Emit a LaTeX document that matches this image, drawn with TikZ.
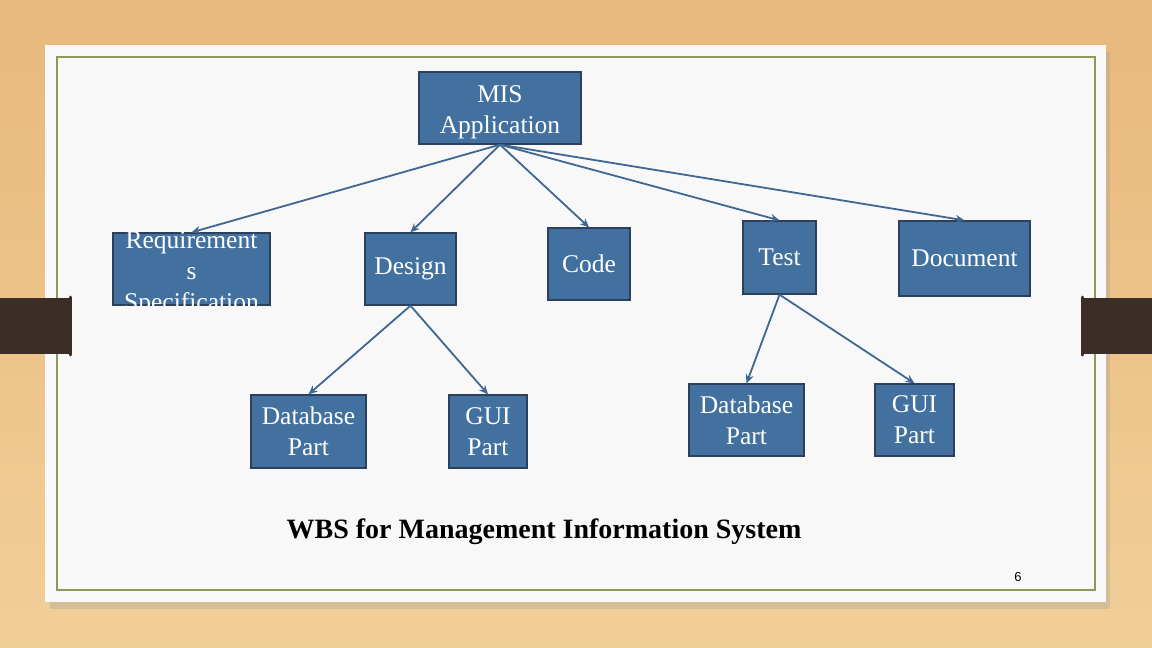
\documentclass[tikz,border=0pt]{standalone}
\usepackage{fontspec}
\setmainfont{Liberation Serif}
\newfontfamily\numfont{Liberation Sans}
\usetikzlibrary{arrows.meta}

\definecolor{boxblue}{RGB}{67,113,159}
\definecolor{boxedge}{RGB}{42,64,92}
\definecolor{linkblue}{RGB}{62,104,146}
\definecolor{tan}{RGB}{232,184,124}
\definecolor{tanlight}{RGB}{241,207,152}
\definecolor{paper}{RGB}{248,248,248}
\definecolor{olive}{RGB}{140,153,88}
\definecolor{tab}{RGB}{58,46,38}

\tikzset{
  wbsbox/.style={draw=boxedge, fill=boxblue, line width=1.3pt, inner sep=0pt,
    align=center, text=white, font=\fontsize{25.5}{31}\selectfont},
  link/.style={draw=linkblue, line width=1.8pt, -{Stealth[length=9pt,width=8pt]}},
}

\begin{document}
\begin{tikzpicture}[x=1pt,y=-1pt]
\useasboundingbox (0,0) rectangle (1152,648);

% backdrop and slide
\shade[top color=tan, bottom color=tanlight] (0,0) rectangle (1152,648);
\fill[black!40, opacity=.3] (50,52) rectangle (1110,609);
\fill[paper] (45,45) rectangle (1106,602);
\draw[olive, line width=1.2pt] (57,57) rectangle (1095,590);

% side tabs
\fill[tab] (0,298) rectangle (70,354);
\draw[tab, line width=3pt, line cap=round] (70,297) -- (70,355);
\fill[tab] (1082,298) rectangle (1152,354);
\draw[tab, line width=3pt, line cap=round] (1082,297) -- (1082,355);

% boxes
\node[wbsbox, minimum width=162pt, minimum height=72pt] (mis) at (500,108) {};
\node[align=center, text=white, font=\fontsize{25.5}{31}\selectfont] (mistext) at ([yshift=-4pt]mis.center) {MIS\\Application};

\node[wbsbox, minimum width=157pt, minimum height=72pt] (req) at (191.5,269) {};
\begin{scope}
\clip (req.south west) rectangle (req.north east);
\node[align=center, text=white, font=\fontsize{25.5}{31}\selectfont] (reqtext) at ([yshift=-5pt]req.center) {Requirement\\s\\Specification};
\end{scope}
\node[wbsbox, minimum width=91pt, minimum height=72pt] (design) at (410.5,269) {Design};
\node[wbsbox, minimum width=82pt, minimum height=72pt] (code) at (589,264) {Code};
\node[wbsbox, minimum width=73pt, minimum height=73pt] (test) at (779.5,257.5) {Test};
\node[wbsbox, minimum width=131pt, minimum height=75pt] (doc) at (964.5,258.5) {Document};

\node[wbsbox, minimum width=115pt, minimum height=73pt] (dbl) at (308.5,431.5) {Database\\Part};
\node[wbsbox, minimum width=78pt, minimum height=73pt] (guil) at (488,431.5) {GUI\\Part};
\node[wbsbox, minimum width=115pt, minimum height=72pt] (dbr) at (746.5,420) {Database\\Part};
\node[wbsbox, minimum width=79pt, minimum height=72pt] (guir) at (914.5,420) {GUI\\Part};

% connectors
\draw[link] (mis.south) -- (req.north);
\draw[link] (mis.south) -- (design.north);
\draw[link] (mis.south) -- (code.north);
\draw[link] (mis.south) -- (test.north);
\draw[link] (mis.south) -- (doc.north);
\draw[link] (design.south) -- (dbl.north);
\draw[link] (design.south) -- (guil.north);
\draw[link] (test.south) -- (dbr.north);
\draw[link] (test.south) -- (guir.north);

% caption
\node[font=\fontsize{28}{33}\selectfont\bfseries] (caption) at (544,532) {WBS for Management Information System};
\node[font=\numfont\fontsize{13}{15}\selectfont] (pagenum) at (1018,577) {6};
\end{tikzpicture}
\end{document}
